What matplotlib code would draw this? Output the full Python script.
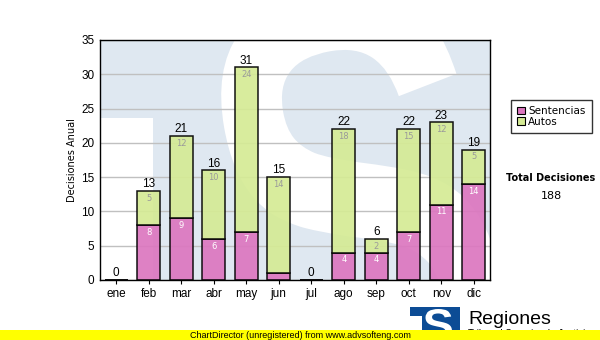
import matplotlib
matplotlib.use("Agg")
import matplotlib.pyplot as plt
from matplotlib.patches import Rectangle, PathPatch, Patch
from matplotlib.textpath import TextPath
from matplotlib.font_manager import FontProperties
from matplotlib.transforms import Affine2D

# monthly decisions
months = ["ene", "feb", "mar", "abr", "may", "jun", "jul", "ago", "sep", "oct", "nov", "dic"]
sentencias = [0, 8, 9, 6, 7, 1, 0, 4, 4, 7, 11, 14]
autos = [0, 5, 12, 10, 24, 14, 0, 18, 2, 15, 12, 5]
totals = [s + a for s, a in zip(sentencias, autos)]

W, H = 600, 340
L, R, T, B = 100, 490, 40, 280   # plot box in pixels

pink = "#dc76bf"
green = "#d5eb95"
wm_blue = "#dfe8f1"


def s_path(x0, y0, x1, y1, family="Liberation Sans", tilt=0):
    # big bold "S" fitted into a pixel box (y grows downwards), optionally tilted
    tp = TextPath((0, 0), "S", size=1, prop=FontProperties(family=family, weight="bold"))
    ext = tp.get_extents()
    sx = (x1 - x0) / ext.width
    sy = (y1 - y0) / ext.height
    tr = (Affine2D().translate(-ext.x0, -ext.y0).scale(sx, -sy).translate(x0, y1)
          .rotate_deg_around((x0 + x1) / 2, (y0 + y1) / 2, -tilt))
    return tr.transform_path(tp)


fig = plt.figure(figsize=(6, 3.4), dpi=100)
box = [L / W, 1 - B / H, (R - L) / W, (B - T) / H]

# watermark behind the bars
bg = fig.add_axes(box, zorder=0)
bg.set_xlim(L, R)
bg.set_ylim(B, T)
bg.axis("off")
bg.add_patch(Rectangle((L, T), R - L, B - T, color=wm_blue, lw=0))
bg.add_patch(Rectangle((L, 118), 53, B - 118, color="white", lw=0))
bg.add_patch(PathPatch(s_path(226, -15, 486, 430, tilt=10), facecolor="white", edgecolor="none"))

ax = fig.add_axes(box, zorder=1)
ax.patch.set_alpha(0)

x = list(range(len(months)))
ax.bar(x, sentencias, 0.7, facecolor=pink, edgecolor="black", lw=1.1, alpha=0.92, label="Sentencias")
ax.bar(x, autos, 0.7, bottom=sentencias, facecolor=green, edgecolor="black", lw=1.1, alpha=0.92, label="Autos")

for i in x:
    if sentencias[i] > 1:
        ax.annotate(str(sentencias[i]), (i, sentencias[i]), xytext=(0, -2), textcoords="offset points",
                    ha="center", va="top", fontsize=6, color="white", family="DejaVu Sans")
    if autos[i] > 0:
        ax.annotate(str(autos[i]), (i, totals[i]), xytext=(0, -2), textcoords="offset points",
                    ha="center", va="top", fontsize=6, color="#9a9a9a", family="DejaVu Sans")
    ax.annotate(str(totals[i]), (i, totals[i]), xytext=(0, 0.5), textcoords="offset points",
                ha="center", va="bottom", fontsize=8.5, color="black", family="Liberation Sans")

ax.set_xlim(-0.5, len(months) - 0.5)
ax.set_ylim(0, 35)
ax.set_yticks(range(0, 36, 5))
ax.set_xticks(x)
ax.set_xticklabels(months)
ax.yaxis.grid(True, color="#c0c0c0", lw=1)
ax.set_axisbelow(True)
ax.tick_params(axis="y", length=0, pad=4, labelsize=8.5)
ax.tick_params(axis="x", length=3, pad=3, labelsize=8.5)
for lab in ax.get_xticklabels() + ax.get_yticklabels():
    lab.set_family("Liberation Sans")
for sp in ax.spines.values():
    sp.set_color("black")
    sp.set_linewidth(1)

fig.text(72 / W, 1 - 160 / H, "Decisiones Anual", rotation=90, ha="center", va="center",
         fontsize=7, family="DejaVu Sans")

handles = [Patch(facecolor=pink, edgecolor="black", lw=0.8, label="Sentencias"),
           Patch(facecolor=green, edgecolor="black", lw=0.8, label="Autos")]
leg = fig.legend(handles=handles, loc="upper left", bbox_to_anchor=(511 / W, 1 - 100 / H),
                 fontsize=7.5, frameon=True, fancybox=False, handlelength=0.75, handleheight=0.75,
                 handletextpad=0.3, borderpad=0.6, labelspacing=0.05, borderaxespad=0)
leg.get_frame().set_edgecolor("black")
leg.get_frame().set_linewidth(1)
for t in leg.get_texts():
    t.set_family("DejaVu Sans")

fig.text(551 / W, 1 - 178 / H, "Total Decisiones", ha="center", va="center",
         fontsize=7, weight="bold", family="DejaVu Sans")
fig.text(551 / W, 1 - 196 / H, str(sum(totals)), ha="center", va="center",
         fontsize=8, family="DejaVu Sans")

# footer: logo and banner
ov = fig.add_axes([0, 0, 1, 1], zorder=3)
ov.set_xlim(0, W)
ov.set_ylim(H, 0)
ov.axis("off")
ov.add_patch(Rectangle((410, 307), 50, 30, color="#0c4c95", lw=0))
ov.add_patch(Rectangle((410, 316), 12, 20, color="white", lw=0))
ov.add_patch(PathPatch(s_path(424, 309, 452, 340), facecolor="white", edgecolor="none"))
ov.text(468, 324, "Regiones", fontsize=14, family="Liberation Sans", va="baseline")
ov.text(468, 337, "Tribunal Superior de Justicia", fontsize=7, family="Liberation Sans", va="baseline")
ov.add_patch(Rectangle((0, 330), W, 10, color="#ffff00", lw=0, zorder=5))
ov.text(190, 335, "ChartDirector (unregistered) from www.advsofteng.com", fontsize=6.5,
        family="Liberation Sans", va="center", zorder=6)

fig.savefig("out.png", dpi=100)
